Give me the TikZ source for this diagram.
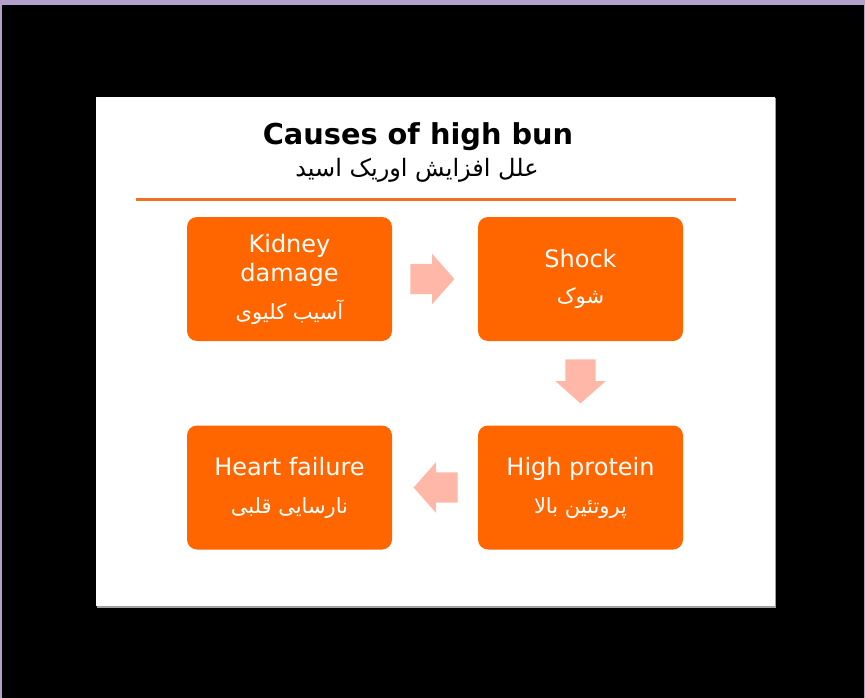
\documentclass[tikz,border=0pt]{standalone}
\usepackage{fontspec}
\usetikzlibrary{positioning,shapes.arrows,calc}
\setmainfont{DejaVu Sans}
\newfontfamily\persfont[Script=Arabic]{DejaVu Sans}
\TeXXeTstate=1
\definecolor{frameviolet}{HTML}{B3A0CB}
\definecolor{boxorange}{HTML}{FF6600}
\definecolor{ruleorange}{HTML}{F47020}
\definecolor{arrowpink}{HTML}{FFB8A8}
\definecolor{shadowgray}{HTML}{A0A0A0}
\newcommand{\pers}[1]{{\fontsize{21}{25}\persfont\beginR #1\endR}}

\begin{document}
\begin{tikzpicture}[x=1pt,y=-1pt,
  causebox/.style={rectangle,rounded corners=10pt,fill=boxorange,text=white,
                   minimum width=205pt,minimum height=124pt,inner sep=0pt,
                   font=\fontsize{24}{29}\selectfont,align=center},
  flowarrow/.style={single arrow,fill=arrowpink,inner xsep=0pt,inner ysep=15pt,
                    minimum height=44pt,anchor=tail,
                    single arrow head extend=10pt,single arrow tip angle=97}
]

% ---- Window frame and slide ---------------------------------
\fill[frameviolet] (0,0) rectangle (865,698);
\fill[black] (2,5) rectangle (864,698);
\fill[shadowgray] (97,98) rectangle (776,607.5);
\fill[white] (96,97) rectangle (775,606);
\useasboundingbox (0,0) rectangle (865,698);

% ---- Title ---------------------------------------------------
\node[anchor=base,font=\fontsize{28.8}{34}\selectfont\bfseries] (title) at (418,145) {Causes of high bun};
\node[anchor=base,font=\fontsize{24}{29}\persfont] (subtitle) at (417,176) {\beginR علل افزایش اوریک اسید\endR};
\draw[ruleorange,line width=3pt] (136,199) -- (736,199);

% ---- Cause boxes ---------------------------------------------
\node[causebox] (kidney) at (289.5,279)   {Kidney\\damage\\[9pt]\pers{آسیب کلیوی}};
\node[causebox] (shock)  at (580.5,279)   {Shock\\[7pt]\pers{شوک}};
\node[causebox] (protein) at (580.5,487.5) {High protein\\[9pt]\pers{پروتئین بالا}};
\node[causebox] (heart)  at (289.5,487.5) {Heart failure\\[9pt]\pers{نارسایی قلبی}};

% ---- Flow arrows ---------------------------------------------
\node[flowarrow] (a1) at ($(kidney.east)+(18,0)$) {};
\node[flowarrow,rotate=-90] (a2) at ($(shock.south)+(0,18)$) {};
\node[flowarrow,rotate=180] (a3) at ($(protein.west)+(-20,0)$) {};

\end{tikzpicture}
\end{document}
